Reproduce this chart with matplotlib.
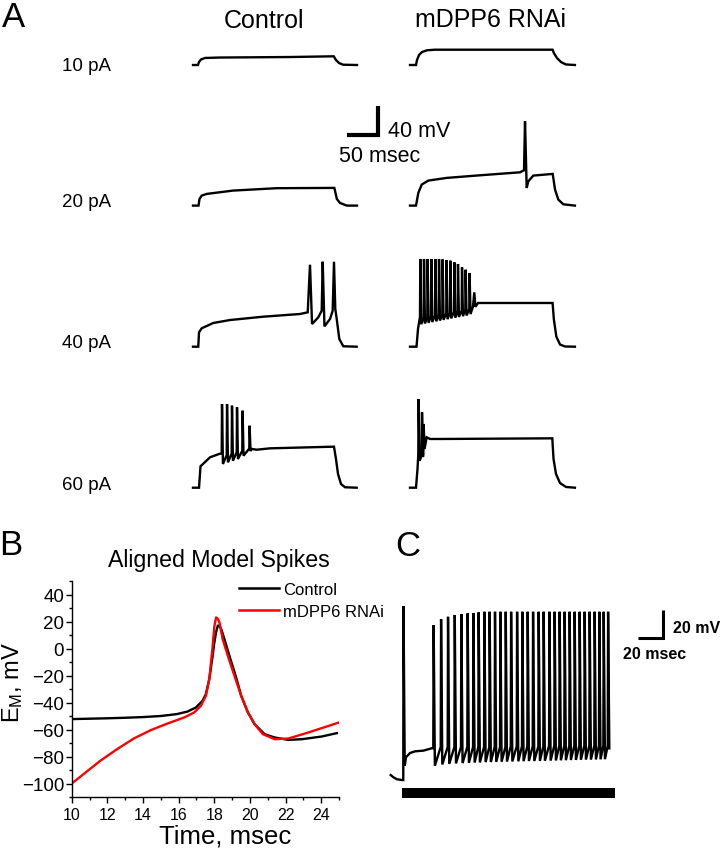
import numpy as np
import matplotlib.pyplot as plt
from matplotlib.lines import Line2D

plt.rcParams['font.family'] = ['Liberation Sans', 'DejaVu Sans']
plt.rcParams['mathtext.default'] = 'regular'

W, H = 722, 853          # output size in pixels (dpi 100)

# ---------------- panel A traces (ms, mV above rest) ----------------
ctl10_t = [0, 8.0, 9.7, 12.9, 19.4, 43.5, 156, 227, 230.6, 235.5, 242, 264.5]
ctl10_v = [0, 0, 4.1, 7.6, 9.7, 10.3, 11.0, 12.0, 6.9, 2.8, 0.4, 0]
rnai10_t = [0, 9.7, 11.3, 14.5, 19.4, 27.4, 40.3, 230, 232, 237, 243.5, 251.6, 266]
rnai10_v = [0, 0, 6.9, 13.8, 17.9, 20.3, 21.1, 21.1, 16.6, 9.7, 4.1, 0.7, 0]

ctl20_t = [0, 8.9, 10.5, 14, 22, 64.5, 135, 228, 232, 237, 248, 264.5]
ctl20_v = [0, 0, 9.2, 13.8, 16.1, 20.7, 24.0, 24.4, 9.2, 3.7, 0, 0]
rnai20_t = [0, 9.7, 13.4, 18.9, 29.5, 59.2, 112.9, 177.4, 183.9, 185.5, 188.2,
            190.8, 198.9, 230.2, 233.9, 239.2, 247.3, 266]
rnai20_v = [0, 0, 17.5, 29, 34.5, 38.2, 41.8, 45.9, 48.7, 116.3, 24.4,
            33.5, 41.4, 43.7, 22.1, 8.3, 1.8, 0]

ctl40_t = [0, 8.5, 9.7, 14, 32.7, 59.7, 113.4, 172.6, 185, 188.7, 192, 202.1, 207.6,
           209.2, 212, 221, 225.3, 227.4, 229.5, 231.8, 236, 242.4, 264]
ctl40_v = [0, 0, 19.9, 25.4, 32.7, 36.8, 41.4, 45.1, 47.4, 113.1, 31.3, 40.6, 49.7,
           117.2, 28.1, 38.2, 49.7, 117.2, 52, 38.2, 10.6, 0.6, 0]

rnai40_pre_t = [0, 10.5, 12.9, 15.5]
rnai40_pre_v = [0, 0, 24.4, 38]
rnai40_spk_t = [16.1, 22.1, 27.9, 33.9, 40.3, 46.3, 52.1, 58.5, 64.5, 71.0, 76.9, 83.4, 89.2, 95.6]
rnai40_thr = [41, 40, 41, 42, 43, 44, 45, 46, 47, 48, 49, 50, 51, 52]
rnai40_peak = [121, 121, 121, 121, 121, 121, 120.3, 119.6, 118.6, 116.4, 114.1, 109.5, 106.2, 101.7]
rnai40_trough = [31, 32, 33, 34, 35, 36, 37, 38, 39, 40, 41, 42, 43, 45]
rnai40_post_t = [101.5, 103.7, 105.5, 109.7, 230, 232, 236, 242, 250, 266]
rnai40_post_v = [55, 75, 55, 60.3, 60.3, 38, 14, 3, 0.3, 0]

ctl60_pre_t = [0, 9.7, 12.1, 27.4, 42.0]
ctl60_pre_v = [0, 0, 29.5, 41.9, 46.5]
ctl60_spk_t = [46.3, 54.4, 62.4, 70.5, 79.5, 90.8]
ctl60_thr = [47.4, 45, 47, 49, 51, 54]
ctl60_peak = [115.4, 115.4, 113.1, 110.9, 106.2, 85.5]
ctl60_trough = [32.7, 35, 37.2, 39.6, 44.1, 50.6]
ctl60_post_t = [94.7, 102.7, 124.2, 227.4, 230.6, 233.9, 238.7, 245.2, 264]
ctl60_post_v = [53.4, 52.4, 54.3, 56.6, 39.6, 18.9, 5.1, 0.6, 0]

rnai60_pre_t = [0, 9.7, 12.1]
rnai60_pre_v = [0, 0, 25.8]
rnai60_spk_t = [13.4, 18.9, 21.5]
rnai60_thr = [46.5, 44, 46]
rnai60_peak = [122.3, 104, 87.9]
rnai60_trough = [37.2, 42.4, 53.4]
rnai60_post_t = [26.9, 32.3, 48.4, 229.5, 231.5, 235.5, 241.9, 251.6, 266]
rnai60_post_v = [69.5, 67.2, 67.2, 68.1, 39.6, 18.9, 6.5, 1, 0]

currents = ['10 pA', '20 pA', '40 pA', '60 pA']

# ---------------- panel B: aligned model spikes ----------------
b_ctl_t = [10, 11, 12, 13, 14, 15, 15.9, 16.5, 16.97, 17.34, 17.53, 17.72, 17.91, 18.0,
           18.1, 18.2, 18.3, 18.4, 18.57, 18.85, 19.23, 19.51, 19.89, 20.26, 20.83,
           21.39, 22.15, 22.9, 24.03, 24.88]
b_ctl_v = [-52.3, -52, -51.7, -51.3, -50.8, -50, -48.6, -46.7, -43.7, -38.8, -33.8, -22.7,
           -5.4, 4, 12, 17, 16.5, 14, 6.9, -5.4, -21.5, -35, -47.4, -56, -63.5,
           -65.9, -67.7, -67.2, -65.2, -62.7]
b_rnai_t = [10, 10.66, 11.6, 12.54, 13.48, 14.43, 15.37, 16.31, 16.87, 17.25, 17.53, 17.72,
            17.91, 18.0, 18.1, 18.2, 18.29, 18.47, 18.76, 19.13, 19.51, 19.89, 20.26,
            20.73, 21.39, 22.15, 23.28, 25]
b_rnai_v = [-100, -93.1, -83.2, -74.6, -66.7, -60.5, -55.6, -51.1, -47.4, -42.5, -35, -22.7,
            2, 16, 23, 22, 19.3, 6.9, -5.4, -20.2, -35, -47.4, -56,
            -63.5, -67.2, -66.7, -62.2, -54.8]

# ---------------- panel C: repetitive firing ----------------
c_pre_t = [0, 2, 5, 9, 10.3, 10.5, 11.5, 12.5, 15.8, 19.9, 26.8, 33.7]
c_pre_v = [0, -1.5, -3, -3.6, -3.6, 120.5, 6.6, 12.6, 15.7, 16.9, 17.4, 19.1]
c_spk_t = [34.9, 41.0, 46.7, 52.2, 57.6, 62.8, 67.5, 71.8, 76.5, 80.8, 85.2, 89.6, 94.0,
           98.4, 103.3, 107.6, 112.0, 116.4, 121.0, 125.1, 129.8, 134.1, 138.2, 142.3,
           146.4, 150.5, 154.6, 158.7, 162.8, 166.9, 170.7, 174.3, 177.9]
c_thr = [19.1, 20, 20, 20, 20, 20, 20, 20, 20, 20, 20, 20, 20, 20.5, 20.5, 20.5, 20.5,
         20.5, 20.5, 20.5, 21, 21, 21, 21, 21, 21, 21, 21, 21, 21, 21, 21, 21]
c_peak = [107, 111.4, 113, 114.3, 115, 115.5, 115.7, 116.2, 116.6, 116.6, 116.6, 116.6,
          116.6, 116.6, 116.6, 116.6, 116.6, 116.6, 116.6, 116.6, 116.6, 116.6, 116.6,
          116.6, 116.6, 116.6, 116.6, 116.6, 116.6, 116.6, 116.6, 116.6, 116.6]
c_trough = [6.6, 7.5, 8, 8.3, 8.5, 8.7, 8.9, 9, 9.2, 9.3, 9.4, 9.5, 9.6, 9.7, 9.8, 9.9,
            10, 10, 10.1, 10.2, 10.3, 10.4, 10.5, 10.6, 10.7, 10.8, 10.9, 11, 11, 11.1,
            11.2, 11.3, 19]
c_stim_on, c_stim_off = 9.5, 184


def spiking(pre_t, pre_v, spk_t, thr, peak, trough, post_t, post_v, rise, fall):
    t, v = list(pre_t), list(pre_v)
    for ts, th, pk, tr in zip(spk_t, thr, peak, trough):
        t += [ts, ts + rise, ts + fall]
        v += [th, pk, tr]
    return t + list(post_t), v + list(post_v)


fig = plt.figure(figsize=(W / 100, H / 100), dpi=100)


def trace_axes(x0, y0, width, lo, hi, sx, sy):
    # data (0, 0) sits at pixel (x0, y0); sx, sy are pixels per ms / per mV
    ax = fig.add_axes([x0 / W, 1 - (y0 - lo * sy) / H, width * sx / W, (hi - lo) * sy / H])
    ax.set_xlim(0, width)
    ax.set_ylim(lo, hi)
    ax.axis('off')
    return ax


def ftext(x, y, s, **kw):
    fig.text(x / W, 1 - y / H, s, **kw)


# ---------------- panel A ----------------
sxA, syA = 0.62, 0.725
baselines = [66, 206.6, 347.7, 488.7]
ctl_traces = [
    (ctl10_t, ctl10_v),
    (ctl20_t, ctl20_v),
    (ctl40_t, ctl40_v),
    spiking(ctl60_pre_t, ctl60_pre_v, ctl60_spk_t, ctl60_thr, ctl60_peak, ctl60_trough,
            ctl60_post_t, ctl60_post_v, 0.5, 2.0),
]
rnai_traces = [
    (rnai10_t, rnai10_v),
    (rnai20_t, rnai20_v),
    spiking(rnai40_pre_t, rnai40_pre_v, rnai40_spk_t, rnai40_thr, rnai40_peak, rnai40_trough,
            rnai40_post_t, rnai40_post_v, 0.5, 2.0),
    spiking(rnai60_pre_t, rnai60_pre_v, rnai60_spk_t, rnai60_thr, rnai60_peak, rnai60_trough,
            rnai60_post_t, rnai60_post_v, 0.5, 2.0),
]
for yb, (tc, vc), (tr, vr) in zip(baselines, ctl_traces, rnai_traces):
    ax = trace_axes(193, yb, 266, -5, 125, sxA, syA)
    ax.plot(tc, vc, color='k', lw=1.7, clip_on=False, solid_joinstyle='miter')
    ax = trace_axes(410, yb, 266, -5, 125, sxA, syA)
    ax.plot(tr, vr, color='k', lw=1.7, clip_on=False, solid_joinstyle='miter')

for yb, lab in zip([71, 207, 348, 490], currents):
    ftext(87, yb, lab, ha='center', va='baseline', fontsize=13.5)

ftext(264, 28, 'Control', ha='center', va='baseline', fontsize=18)
ftext(490.5, 27, 'mDPP6 RNAi', ha='center', va='baseline', fontsize=18)

# scale bar 50 ms / 40 mV
ax = trace_axes(378 - 50 * sxA, 136.3, 50, 0, 40, sxA, syA)
ax.plot([0, 50, 50], [0, 0, 40], color='k', lw=3, clip_on=False,
        solid_capstyle='butt', solid_joinstyle='miter')
ftext(388.3, 136.7, '40 mV', ha='left', va='baseline', fontsize=15.5)
ftext(339.3, 161.7, '50 msec', ha='left', va='baseline', fontsize=15.5)

# ---------------- panel B ----------------
axb = fig.add_axes([71.7 / W, 1 - 798 / H, 267.3 / W, 216 / H])
axb.plot(b_ctl_t, b_ctl_v, color='k', lw=1.7, label='Control')
axb.plot(b_rnai_t, b_rnai_v, color='#ff0000', lw=1.7, label='mDPP6 RNAi')
axb.set_xlim(10, 25)
axb.set_ylim(-110, 50)
axb.set_xticks(np.arange(10, 25, 2))
axb.set_xticks(np.arange(11, 26, 2), minor=True)
axb.set_yticks(np.arange(-100, 41, 20))
axb.set_yticks(np.arange(-110, 51, 10), minor=True)
for s in ['top', 'right']:
    axb.spines[s].set_visible(False)
for s in ['left', 'bottom']:
    axb.spines[s].set_linewidth(1.0)
axb.tick_params(which='major', direction='out', length=4, width=1)
axb.tick_params(which='minor', direction='out', length=2.2, width=1)
axb.tick_params(axis='y', labelsize=13.5, pad=1.5)
axb.tick_params(axis='x', labelsize=11.5, pad=3)
axb.legend(handles=[Line2D([], [], color='k', lw=1.8), Line2D([], [], color='#ff0000', lw=1.8)],
           labels=['Control', 'mDPP6 RNAi'], loc='upper left',
           bbox_to_anchor=(239.3 / W, 1 - 583 / H), bbox_transform=fig.transFigure,
           frameon=False, fontsize=12, handlelength=2.4, handletextpad=0.25,
           labelspacing=0.42, borderpad=0, borderaxespad=0)

ftext(219, 566.7, 'Aligned Model Spikes', ha='center', va='baseline', fontsize=16.7)
ftext(224.7, 844, 'Time, msec', ha='center', va='baseline', fontsize=18.5)
ftext(0, 683, r'E$_{M}$, mV', ha='left', va='center', rotation=90, fontsize=17)

# ---------------- panel C ----------------
sxC, syC = 1.22, 1.4
axc = trace_axes(390.7, 776, 195, -20, 125, sxC, syC)
ct, cv = spiking(c_pre_t, c_pre_v, c_spk_t, c_thr, c_peak, c_trough, [], [], 0.3, 1.3)
axc.plot(ct, cv, color='k', lw=1.7, clip_on=False, solid_joinstyle='miter')
axc.fill_between([c_stim_on, c_stim_off], -16.6, -9.5, color='k', lw=0)

# scale bar 20 ms / 20 mV
axs = trace_axes(662.7 - 20 * sxC, 638.5, 20, 0, 20, sxC, syC)
axs.plot([0, 20, 20], [0, 0, 20], color='k', lw=2.2, clip_on=False,
         solid_capstyle='butt', solid_joinstyle='miter')
ftext(673.3, 633.3, '20 mV', ha='left', va='baseline', fontsize=11.5, fontweight='bold')
ftext(622.7, 659.3, '20 msec', ha='left', va='baseline', fontsize=11.5, fontweight='bold')

# panel letters
ftext(1.5, 27, 'A', ha='left', va='baseline', fontsize=25)
ftext(-1, 555, 'B', ha='left', va='baseline', fontsize=25)
ftext(395, 556, 'C', ha='left', va='baseline', fontsize=25)

fig.savefig('out.png', dpi=100)
